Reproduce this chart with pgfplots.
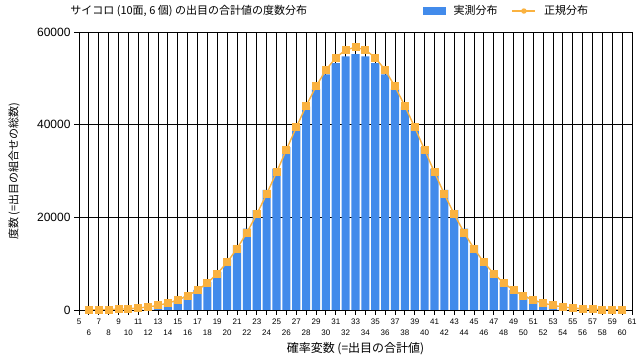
\documentclass[border=0pt]{standalone}
\usepackage{pgfplots}
\pgfplotsset{compat=1.18}
\usepackage{fontspec}
\setmainfont{Liberation Sans}
\newfontfamily\jp{Noto Sans CJK JP}
\definecolor{barblue}{RGB}{66,139,235}
\definecolor{lineor}{RGB}{250,178,64}
\begin{document}
\begin{tikzpicture}
\useasboundingbox (0,0) rectangle (640bp,360bp);
\begin{axis}[
  at={(79bp,50bp)}, anchor=south west,
  scale only axis, width=553bp, height=278bp,
  xmin=5, xmax=61, ymin=0, ymax=60000,
  xtick={5,7,...,61},
  extra x ticks={6,8,...,60},
  extra x tick style={grid=major, xticklabel style={yshift=-11bp}},
  ytick={0,20000,40000,60000},
  scaled y ticks=false,
  yticklabel style={/pgf/number format/fixed,/pgf/number format/1000 sep={}, font=\fontsize{12bp}{12bp}\selectfont},
  xticklabel style={font=\fontsize{8bp}{8bp}\selectfont},
  /pgf/number format/assume math mode=true,
  tick pos=left, tick align=outside,
  major tick length=5bp,
  xmajorgrids, ymajorgrids,
  major grid style={black, line width=0.8bp},
  axis line style={black, line width=0.8bp},
  tick style={black, line width=0.8bp},
  title={\jp サイコロ (10面, 6 個) の出目の合計値の度数分布},
  title style={at={(rel axis cs:-0.016,1.0755)}, anchor=west, yshift=-6pt, inner sep=0pt, font=\fontsize{11bp}{11bp}\selectfont},
  xlabel={\jp 確率変数 (=出目の合計値)},
  xlabel style={at={(rel axis cs:0.5,-0.14)}, anchor=center, font=\fontsize{12bp}{12bp}\selectfont},
  ylabel={\jp 度数 (=出目の組合せの総数)},
  ylabel style={at={(rel axis cs:-0.1175,0.5)}, anchor=center, rotate=0, font=\fontsize{11bp}{11bp}\selectfont},
  legend columns=2,
  legend style={at={(rel axis cs:0.93,1.0755)}, anchor=east, draw=none, fill=none,
    font=\fontsize{11bp}{11bp}\selectfont, column sep=6bp,
    /tikz/every even column/.append style={column sep=12bp}},
]
\addplot[ybar, bar width=0.82, fill=barblue, draw=none,
  legend image code/.code={\fill[barblue] (0bp,-4bp) rectangle (23bp,4bp);}]
coordinates {
(6,1) (7,6) (8,21) (9,56) (10,126) (11,252) (12,462) (13,792) (14,1287) (15,2002)
(16,2997) (17,4332) (18,6062) (19,8232) (20,10872) (21,13992) (22,17577) (23,21582)
(24,25927) (25,30492) (26,35127) (27,39662) (28,43917) (29,47712) (30,50877)
(31,53262) (32,54747) (33,55252) (34,54747) (35,53262) (36,50877) (37,47712)
(38,43917) (39,39662) (40,35127) (41,30492) (42,25927) (43,21582) (44,17577)
(45,13992) (46,10872) (47,8232) (48,6062) (49,4332) (50,2997) (51,2002) (52,1287)
(53,792) (54,462) (55,252) (56,126) (57,56) (58,21) (59,6) (60,1)
};
\addlegendentry{\jp 実測分布}
\addplot[color=lineor, line width=1.4bp, mark=square*, mark size=3.3bp,
  mark options={fill=lineor, draw=none},
  legend image code/.code={\draw[lineor, line width=1.4bp] (0bp,0bp) -- (23bp,0bp);
    \fill[lineor] (11.5bp,0bp) circle (2bp);}]
coordinates {
(6,36) (7,61) (8,103) (9,169) (10,271) (11,427) (12,659) (13,998) (14,1479) (15,2150)
(16,3060) (17,4271) (18,5841) (19,7830) (20,10285) (21,13241) (22,16702) (23,20652)
(24,25019) (25,29708) (26,34566) (27,39417) (28,44049) (29,48242) (30,51776)
(31,54458) (32,56133) (33,56703) (34,56133) (35,54458) (36,51776) (37,48242)
(38,44049) (39,39417) (40,34566) (41,29708) (42,25019) (43,20652) (44,16702)
(45,13241) (46,10285) (47,7830) (48,5841) (49,4271) (50,3060) (51,2150) (52,1479)
(53,998) (54,659) (55,427) (56,271) (57,169) (58,103) (59,61) (60,36)
};
\addlegendentry{\jp 正規分布}
\end{axis}
\end{tikzpicture}
\end{document}
